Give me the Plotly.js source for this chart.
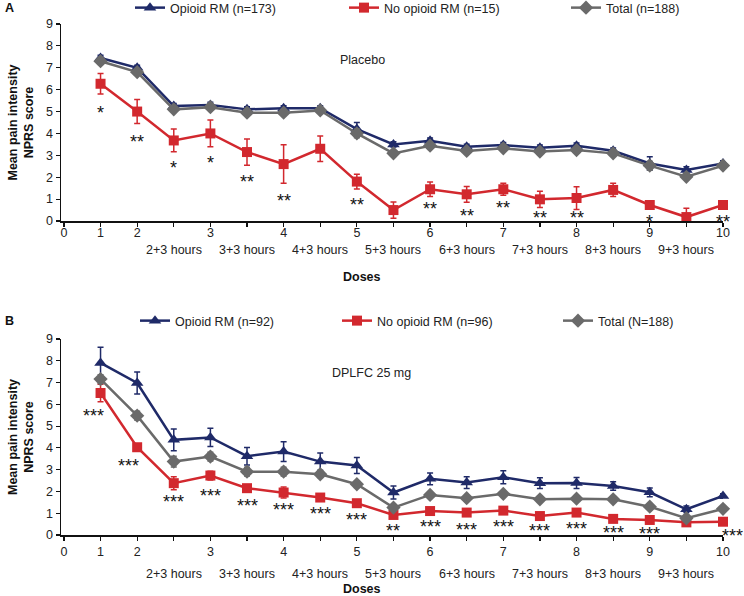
<!DOCTYPE html>
<html>
<head>
<meta charset="utf-8">
<script src="https://cdn.plot.ly/plotly-3.0.1.min.js"></script>
<style>html,body{margin:0;padding:0;background:#fff;}#chart{width:744px;height:596px;}</style>
</head>
<body>
<div id="chart"></div>
<script>
// ---- data ----
const timepoints = ["1","2","2+3 hours","3","3+3 hours","4","4+3 hours","5","5+3 hours","6","6+3 hours","7","7+3 hours","8","8+3 hours","9","9+3 hours","10"];

// Panel A: Placebo
const opioidA      = [7.45,7.0,5.25,5.3,5.1,5.15,5.15,4.2,3.5,3.67,3.39,3.47,3.35,3.44,3.21,2.63,2.33,2.63];
const opioidAErr   = [0.12,0.12,0.12,0.12,0.12,0.12,0.12,0.3,0.12,0.12,0.12,0.12,0.12,0.12,0.12,0.3,0.15,0.12];
const noOpioidA    = [6.27,5.0,3.68,4.0,3.15,2.6,3.3,1.8,0.5,1.45,1.22,1.45,0.99,1.05,1.42,0.73,0.18,0.73];
const noOpioidAErr = [0.47,0.55,0.52,0.61,0.6,0.88,0.58,0.34,0.37,0.33,0.36,0.27,0.37,0.52,0.3,0.1,0.4,0.1];
const totalA       = [7.3,6.8,5.1,5.2,4.95,4.95,5.05,4.0,3.09,3.44,3.2,3.32,3.17,3.24,3.09,2.53,2.02,2.53];
const totalAErr    = [0.12,0.12,0.12,0.12,0.12,0.12,0.12,0.2,0.12,0.12,0.12,0.12,0.12,0.12,0.12,0.2,0.12,0.12];
const sigA   = ["*","**","*","*","**","**","","**","**","**","**","**","**","**","","*","*","**"];
const sigAY  = [5.1,3.78,2.6,2.83,1.97,1.1,null,0.93,-0.56,0.73,0.43,0.76,0.31,0.31,null,0.15,-0.56,0.15];

// Panel B: DPLFC 25 mg
const opioidB      = [7.9,6.98,4.37,4.48,3.62,3.83,3.37,3.19,1.95,2.58,2.41,2.65,2.38,2.39,2.25,1.96,1.18,1.79];
const opioidBErr   = [0.72,0.5,0.5,0.42,0.4,0.45,0.4,0.37,0.3,0.27,0.27,0.3,0.25,0.25,0.2,0.2,0.15,0.1];
const noOpioidB    = [6.52,4.03,2.38,2.73,2.15,1.95,1.72,1.46,0.92,1.1,1.03,1.12,0.87,1.03,0.74,0.69,0.58,0.61];
const noOpioidBErr = [0.4,0.15,0.3,0.2,0.15,0.25,0.15,0.15,0.1,0.1,0.1,0.1,0.1,0.1,0.1,0.1,0.1,0.1];
const totalB       = [7.16,5.48,3.37,3.6,2.91,2.91,2.79,2.33,1.26,1.84,1.69,1.89,1.64,1.67,1.64,1.3,0.77,1.2];
const totalBErr    = [0.2,0.2,0.25,0.2,0.2,0.2,0.15,0.15,0.12,0.12,0.12,0.12,0.12,0.12,0.12,0.12,0.12,0.12];
const sigB   = ["***","***","***","***","***","***","***","***","**","***","***","***","***","***","***","***","*","***"];
const sigBY  = [5.63,3.36,1.68,1.99,1.5,1.33,1.15,0.87,0.38,0.54,0.43,0.54,0.38,0.46,0.28,0.23,-0.43,0.15];

const legendA = ["Opioid RM (n=173)","No opioid RM (n=15)","Total (n=188)"];
const legendB = ["Opioid RM (n=92)","No opioid RM (n=96)","Total (N=188)"];

// ---- styling ----
const FONT = "Liberation Sans, Arial, sans-serif";
const NAVY = "#1f2a68", RED = "#d2282e", GRAY = "#6a6a6a";
const W = 744, H = 596;
const xIdx = timepoints.map((t, i) => i + 1);
const isHour = t => t.indexOf("hours") >= 0;

function series(y, err, name, color, symbol, size, xa, ya, legend) {
  return {
    x: xIdx, y: y, name: name, type: "scatter", mode: "lines+markers",
    xaxis: xa, yaxis: ya, legend: legend, cliponaxis: false,
    line: {color: color, width: 2.5},
    marker: {color: color, symbol: symbol, size: size},
    error_y: {type: "data", array: err, visible: true, color: color, thickness: 1.5, width: 3}
  };
}

const traces = [
  series(opioidA, opioidAErr, legendA[0], NAVY, "triangle-up", 11, "x", "y", "legend"),
  series(noOpioidA, noOpioidAErr, legendA[1], RED, "square", 10, "x", "y", "legend2"),
  series(totalA, totalAErr, legendA[2], GRAY, "diamond", 11, "x", "y", "legend3"),
  series(opioidB, opioidBErr, legendB[0], NAVY, "triangle-up", 11, "x2", "y2", "legend4"),
  series(noOpioidB, noOpioidBErr, legendB[1], RED, "square", 10, "x2", "y2", "legend5"),
  series(totalB, totalBErr, legendB[2], GRAY, "diamond", 11, "x2", "y2", "legend6")
];

const tickVals = [0].concat(xIdx);
const tickText = ["0"].concat(timepoints.map(t => isHour(t) ? "" : t));

function xaxis(anchor, standoff) {
  return {
    anchor: anchor, domain: [61 / W, 723 / W], range: [-0.08, 18],
    tickmode: "array", tickvals: tickVals, ticktext: tickText,
    showline: true, linecolor: "#111", linewidth: 1.5,
    ticks: "outside", ticklen: 4, tickwidth: 1.2, tickcolor: "#111",
    ticklabelstandoff: standoff,
    showgrid: false, zeroline: false,
    tickfont: {family: FONT, size: 12.5, color: "#222"}
  };
}
function yaxis(anchor, top, bottom) {
  return {
    anchor: anchor, domain: [1 - bottom / H, 1 - top / H], range: [0, 9], dtick: 1,
    showline: true, linecolor: "#111", linewidth: 1.5,
    ticks: "outside", ticklen: 4, tickwidth: 1.2, tickcolor: "#111",
    showgrid: false, zeroline: false,
    tickfont: {family: FONT, size: 12.5, color: "#222"},
    title: {text: "<b>Mean pain intensity<br>NPRS score</b>", standoff: 9,
            font: {family: FONT, size: 12.5, color: "#111"}}
  };
}

const annotations = [];
function txt(text, x, y, opts) {
  annotations.push(Object.assign({text: text, x: x, y: y, xref: "paper", yref: "paper",
    showarrow: false, font: {family: FONT, size: 12.5, color: "#222"}}, opts || {}));
}
const boldFont = {family: FONT, size: 12.5, color: "#111"};
txt("<b>A</b>", 3 / W, 1 - 8 / H, {xanchor: "left", yanchor: "middle", font: boldFont});
txt("<b>B</b>", 3 / W, 1 - 321 / H, {xanchor: "left", yanchor: "middle", font: boldFont});
txt("Placebo", 338 / W, 1 - 60 / H, {xanchor: "left", yanchor: "middle"});
txt("DPLFC 25 mg", 330 / W, 1 - 373 / H, {xanchor: "left", yanchor: "middle"});
txt("<b>Doses</b>", 362 / W, 1 - 277 / H, {xanchor: "center", yanchor: "middle", font: boldFont});
txt("<b>Doses</b>", 362 / W, 1 - 589 / H, {xanchor: "center", yanchor: "middle", font: boldFont});

// "+3 hours" second-row labels, placed on the data x scale
timepoints.forEach((t, i) => {
  if (!isHour(t)) return;
  annotations.push({text: t, x: xIdx[i], xref: "x", y: 1 - 250 / H, yref: "paper", showarrow: false,
    yanchor: "middle", font: {family: FONT, size: 12.5, color: "#222"}});
  annotations.push({text: t, x: xIdx[i], xref: "x2", y: 1 - 574 / H, yref: "paper", showarrow: false,
    yanchor: "middle", font: {family: FONT, size: 12.5, color: "#222"}});
});

// significance markers
const starShiftB = {0: -7, 1: -9, 17: 9};
sigA.forEach((s, i) => {
  if (!s) return;
  annotations.push({text: s, x: xIdx[i], y: sigAY[i], xref: "x", yref: "y", showarrow: false,
    yanchor: "middle", yshift: -4, font: {family: FONT, size: 18, color: "#111"}});
});
sigB.forEach((s, i) => {
  if (!s) return;
  annotations.push({text: s, x: xIdx[i], y: sigBY[i], xref: "x2", yref: "y2", showarrow: false,
    yanchor: "middle", yshift: -4, xshift: starShiftB[i] || 0, font: {family: FONT, size: 18, color: "#111"}});
});

function legendCfg(xPx, yPx) {
  return {orientation: "h", x: xPx / W, xanchor: "left", y: 1 - yPx / H, yanchor: "middle",
    bgcolor: "rgba(0,0,0,0)", font: {family: FONT, size: 12.5, color: "#222"}};
}

const layout = {
  width: W, height: H, margin: {l: 0, r: 0, t: 0, b: 0, autoexpand: false},
  paper_bgcolor: "#fff", plot_bgcolor: "#fff", showlegend: true,
  xaxis: xaxis("y", -5), yaxis: yaxis("x", 24, 221),
  xaxis2: xaxis("y2", 0), yaxis2: yaxis("x2", 339, 535),
  legend: legendCfg(130, 8), legend2: legendCfg(344, 8), legend3: legendCfg(566, 8),
  legend4: legendCfg(135, 321), legend5: legendCfg(337, 321), legend6: legendCfg(558, 321),
  annotations: annotations
};

Plotly.newPlot("chart", traces, layout, {displayModeBar: false, staticPlot: true});
</script>
</body>
</html>
